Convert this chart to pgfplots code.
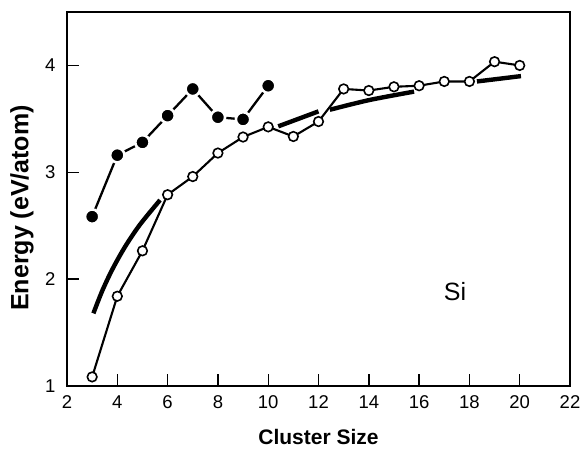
\documentclass[border=0pt]{standalone}
\usepackage{pgfplots}
\pgfplotsset{compat=1.18}
\usepackage{fontspec}
\setmainfont{Liberation Sans}

% Binding energy per atom of Si clusters
\pgfplotstableread{
n   E
3   1.085
4   1.84
5   2.265
6   2.79
7   2.96
8   3.18
9   3.33
10  3.425
11  3.335
12  3.475
13  3.78
14  3.765
15  3.80
16  3.81
17  3.85
18  3.85
19  4.035
20  4.00
}\opendata

\pgfplotstableread{
n   E
3   2.585
4   3.16
5   3.28
6   3.53
7   3.78
8   3.515
9   3.495
10  3.81
}\filleddata

\begin{document}
\begin{tikzpicture}
\begin{axis}[
  scale only axis,
  width=503pt, height=374pt,
  xmin=2, xmax=22, ymin=1, ymax=4.5,
  xtick={2,4,...,22}, ytick={1,2,3,4},
  tick align=inside,
  xtick pos=bottom, ytick pos=left,
  major tick length=12pt,
  every tick/.style={black, line width=1.4pt},
  axis line style={line width=1.4pt},
  /pgf/number format/assume math mode=true,
  ticklabel style={font=\fontsize{18.5}{21}\selectfont},
  xticklabel style={yshift=-6pt},
  yticklabel style={xshift=-8pt},
  xlabel={Cluster Size},
  ylabel={Energy (eV/atom)},
  xlabel style={at={(axis description cs:0.5,-0.136)}, anchor=center,
    font=\fontsize{21}{25}\selectfont\bfseries},
  ylabel style={at={(axis description cs:-0.0895,0.476)}, anchor=center,
    font=\fontsize{25}{30}\selectfont\bfseries},
  clip=false,
]
% smooth fit, drawn in pieces
\addplot[black, line width=4.4pt, smooth] coordinates {
  (3.05,1.68) (3.4,1.89) (3.8,2.09) (4.3,2.30) (4.9,2.51) (5.7,2.74)};
\addplot[black, line width=4.4pt, smooth] coordinates {
  (10.40,3.43) (11.2,3.50) (12.0,3.57)};
\addplot[black, line width=4.4pt, smooth] coordinates {
  (12.45,3.585) (14.0,3.675) (15.8,3.755)};
\addplot[black, line width=4.4pt, smooth] coordinates {
  (18.3,3.85) (20.05,3.90)};

% open circles
\addplot[black, line width=2.1pt, mark=*, mark size=4.8pt,
  mark options={fill=white, draw=black, line width=1.6pt}]
  table[x=n, y=E] {\opendata};

% filled circles
\addplot[black, line width=2.3pt, mark=*, mark size=7.2pt,
  mark options={fill=black, draw=white, line width=2.6pt}]
  table[x=n, y=E] {\filleddata};

\node[font=\fontsize{25}{30}\selectfont] at (axis cs:17.43,1.88) {Si};
\end{axis}
\pgfresetboundingbox
\path[use as bounding box]
  ([xshift=-67pt,yshift=-63pt]current axis.south west)
  rectangle ([xshift=13pt,yshift=12pt]current axis.north east);
\end{tikzpicture}
\end{document}
